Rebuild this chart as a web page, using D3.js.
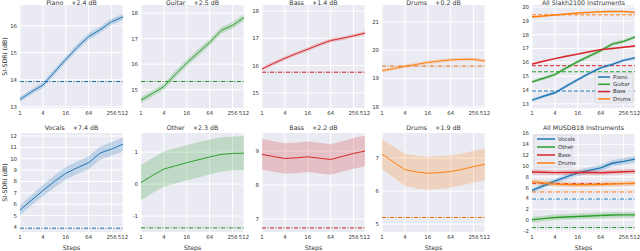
<!DOCTYPE html>
<html>
<head>
<meta charset="utf-8">
<script src="https://cdn.jsdelivr.net/npm/d3@7"></script>
<style>
  body { margin: 0; background: #fff; }
  svg { font-family: "DejaVu Sans", sans-serif; display: block; }
</style>
</head>
<body>
<div id="chart"></div>
<script>
// steps on a log2 axis
const steps = [1, 2, 4, 8, 16, 32, 64, 128, 256, 512];
const stepTicks = [1, 4, 16, 64, 256, 512];

// Slakh2100
const slakhPiano = [13.27, 13.55, 13.8, 14.28, 14.75, 15.2, 15.6, 15.85, 16.15, 16.33];
const slakhPianoSd = [0.1, 0.1, 0.11, 0.12, 0.12, 0.12, 0.12, 0.12, 0.12, 0.12];
const slakhGuitar = [14.59, 14.85, 15.12, 15.6, 16.05, 16.45, 16.85, 17.32, 17.52, 17.83];
const slakhGuitarSd = [0.12, 0.12, 0.12, 0.13, 0.13, 0.13, 0.13, 0.13, 0.13, 0.13];
const slakhBass = [15.88, 16.08, 16.27, 16.44, 16.6, 16.77, 16.92, 17.0, 17.09, 17.19];
const slakhBassSd = [0.07, 0.07, 0.07, 0.07, 0.07, 0.07, 0.07, 0.07, 0.07, 0.07];
const slakhDrums = [19.28, 19.35, 19.43, 19.5, 19.57, 19.62, 19.66, 19.68, 19.68, 19.62];
const slakhDrumsSd = [0.06, 0.06, 0.06, 0.06, 0.06, 0.06, 0.06, 0.06, 0.06, 0.06];
const slakhBaseline = [13.93, 15.32, 15.76, 19.44];

// MUSDB18
const musVocals = [5.49, 6.35, 7.2, 8.0, 8.72, 9.2, 9.65, 10.5, 10.85, 11.27];
const musVocalsSd = [0.45, 0.47, 0.5, 0.52, 0.55, 0.55, 0.57, 0.58, 0.6, 0.6];
const musOther = [0.05, 0.27, 0.47, 0.57, 0.67, 0.76, 0.85, 0.93, 0.96, 0.97];
const musOtherSd = [0.55, 0.55, 0.55, 0.55, 0.55, 0.55, 0.55, 0.54, 0.53, 0.53];
const musBass = [8.9, 8.84, 8.78, 8.8, 8.83, 8.79, 8.75, 8.84, 8.93, 9.0];
const musBassSd = [0.45, 0.45, 0.45, 0.45, 0.45, 0.45, 0.45, 0.45, 0.45, 0.45];
const musDrums = [7.12, 6.88, 6.65, 6.58, 6.54, 6.56, 6.59, 6.66, 6.74, 6.81];
const musDrumsSd = [0.45, 0.47, 0.48, 0.5, 0.5, 0.5, 0.49, 0.48, 0.48, 0.48];
const musBaseline = [3.9, -1.37, 6.74, 5.2];

const slakhNames = ["Piano", "Guitar", "Bass", "Drums"];
const musNames = ["Vocals", "Other", "Bass", "Drums"];
const slakhGains = ["+2.4 dB", "+2.5 dB", "+1.4 dB", "+0.2 dB"];
const musGains = ["+7.4 dB", "+2.3 dB", "+2.2 dB", "+1.9 dB"];
const colors = ["#1f77b4", "#2ca02c", "#d62728", "#ff7f0e"];

const slakhSeries = [
  [slakhPiano, slakhPianoSd], [slakhGuitar, slakhGuitarSd],
  [slakhBass, slakhBassSd], [slakhDrums, slakhDrumsSd]
];
const musSeries = [
  [musVocals, musVocalsSd], [musOther, musOtherSd],
  [musBass, musBassSd], [musDrums, musDrumsSd]
];

// axis ranges per panel
const slakhDomains = [[12.95, 16.77], [14.28, 18.32], [14.45, 18.22], [17.96, 21.6]];
const slakhTicks = [[13, 14, 15, 16], [15, 16, 17, 18], [15, 16, 17, 18], [18, 19, 20, 21]];
const musDomains = [[3.56, 12.26], [-1.5, 1.6], [6.62, 9.53], [4.76, 7.76]];
const musTicks = [[4, 5, 6, 7, 8, 9, 10, 11, 12], [-1, 0, 1], [7, 8, 9], [5, 6, 7]];

const W = 640, H = 251;
const colX = [20, 141, 262, 382, 532];
const pw = 103;
const rows = [{ top: 5, bottom: 108, title: 4.6 }, { top: 133, bottom: 232, title: 129.6 }];

const svg = d3.select("#chart").append("svg")
  .attr("width", W).attr("height", H);

function mkSeries(vals, sd) {
  return steps.map((s, i) => ({ s: s, v: vals[i], lo: vals[i] - sd[i], hi: vals[i] + sd[i] }));
}

function panel(opts) {
  const row = rows[opts.row];
  const x = d3.scaleLog().base(2).domain([1, 512]).range([colX[opts.col], colX[opts.col] + pw]);
  const y = d3.scaleLinear().domain(opts.domain).range([row.bottom, row.top]);
  const g = svg.append("g");

  g.append("rect")
    .attr("x", x.range()[0]).attr("y", row.top)
    .attr("width", pw).attr("height", row.bottom - row.top)
    .attr("fill", "#eaeaf2");

  // grid
  g.selectAll(".gx").data(stepTicks).enter().append("line")
    .attr("x1", d => x(d)).attr("x2", d => x(d))
    .attr("y1", row.top).attr("y2", row.bottom)
    .attr("stroke", "#fff").attr("stroke-width", 1);
  g.selectAll(".gy").data(opts.ticks).enter().append("line")
    .attr("x1", x.range()[0]).attr("x2", x.range()[1])
    .attr("y1", d => y(d)).attr("y2", d => y(d))
    .attr("stroke", "#fff").attr("stroke-width", 1);

  // tick labels
  g.selectAll(".tx").data(stepTicks).enter().append("text")
    .attr("x", d => x(d)).attr("y", row.bottom + 3)
    .attr("dy", "0.71em").attr("text-anchor", "middle")
    .attr("font-size", 5.4).attr("fill", "#333")
    .text(d => d);
  g.selectAll(".ty").data(opts.ticks).enter().append("text")
    .attr("x", x.range()[0] - 3).attr("y", d => y(d))
    .attr("dy", "0.35em").attr("text-anchor", "end")
    .attr("font-size", 5.4).attr("fill", "#333")
    .text(d => d);

  // title
  g.append("text")
    .attr("x", x.range()[0] + pw / 2).attr("y", row.title)
    .attr("text-anchor", "middle").attr("font-size", 6.3).attr("fill", "#333")
    .style("white-space", "pre")
    .text(opts.title);

  if (opts.row === 1) {
    g.append("text")
      .attr("x", x.range()[0] + pw / 2).attr("y", 249.5)
      .attr("text-anchor", "middle").attr("font-size", 6.3).attr("fill", "#333")
      .text("Steps");
  }
  if (opts.col === 0) {
    const cy = (row.top + row.bottom) / 2;
    g.append("text")
      .attr("transform", "translate(7," + cy + ") rotate(-90)")
      .attr("text-anchor", "middle").attr("font-size", 6.3).attr("fill", "#333")
      .text("SI-SDRi (dB)");
  }

  const clip = "clip" + opts.row + "_" + opts.col;
  g.append("clipPath").attr("id", clip).append("rect")
    .attr("x", x.range()[0]).attr("y", row.top)
    .attr("width", pw).attr("height", row.bottom - row.top);
  const inner = g.append("g").attr("clip-path", "url(#" + clip + ")");

  const area = d3.area().x(d => x(d.s)).y0(d => y(d.lo)).y1(d => y(d.hi));
  const line = d3.line().x(d => x(d.s)).y(d => y(d.v));

  opts.series.forEach(function (s) {
    inner.append("line")
      .attr("x1", x.range()[0]).attr("x2", x.range()[1])
      .attr("y1", y(s.base)).attr("y2", y(s.base))
      .attr("stroke", s.baseColor).attr("stroke-width", 1)
      .attr("stroke-dasharray", s.dash);
  });
  opts.series.forEach(function (s) {
    const data = mkSeries(s.vals, s.sd);
    inner.append("path").datum(data)
      .attr("d", area).attr("fill", s.color).attr("fill-opacity", 0.22);
    inner.append("path").datum(data)
      .attr("d", line).attr("fill", "none")
      .attr("stroke", s.color).attr("stroke-width", s.lw);
  });

  if (opts.legend) {
    const L = opts.legend;
    const lg = g.append("g");
    lg.append("rect")
      .attr("x", L.x).attr("y", L.y).attr("width", L.w).attr("height", L.h)
      .attr("rx", 1.5).attr("fill", "#eaeaf2").attr("fill-opacity", 0.8)
      .attr("stroke", "#cccccc").attr("stroke-width", 0.6);
    opts.series.forEach(function (s, i) {
      const ly = L.y + 4 + i * L.step;
      lg.append("line")
        .attr("x1", L.x + 3).attr("x2", L.x + 3 + L.handle)
        .attr("y1", ly).attr("y2", ly)
        .attr("stroke", s.color).attr("stroke-width", 1.5);
      lg.append("text")
        .attr("x", L.x + 6 + L.handle).attr("y", ly).attr("dy", "0.35em")
        .attr("font-size", 5.4).attr("fill", "#333")
        .text(s.name);
    });
  }
}

// single-source panels
slakhNames.forEach(function (name, i) {
  panel({
    row: 0, col: i, domain: slakhDomains[i], ticks: slakhTicks[i],
    title: name + "    " + slakhGains[i],
    series: [{
      vals: slakhSeries[i][0], sd: slakhSeries[i][1], base: slakhBaseline[i],
      color: colors[i], baseColor: d3.color(colors[i]).darker(0.35), lw: 1,
      dash: "4,1.5,1,1.5", name: name
    }]
  });
});
musNames.forEach(function (name, i) {
  panel({
    row: 1, col: i, domain: musDomains[i], ticks: musTicks[i],
    title: name + "    " + musGains[i],
    series: [{
      vals: musSeries[i][0], sd: musSeries[i][1], base: musBaseline[i],
      color: colors[i], baseColor: d3.color(colors[i]).darker(0.35), lw: 1,
      dash: "4,1.5,1,1.5", name: name
    }]
  });
});

// combined panels
panel({
  row: 0, col: 4, domain: [12.7, 20.15], ticks: [13, 14, 15, 16, 17, 18, 19, 20],
  title: "All Slakh2100 Instruments",
  series: slakhNames.map((name, i) => ({
    vals: slakhSeries[i][0], sd: slakhSeries[i][1], base: slakhBaseline[i],
    color: colors[i], baseColor: colors[i], lw: 1.4, dash: "4,2", name: name
  })),
  legend: { x: 595, y: 73, w: 38, h: 30, step: 7.3, handle: 12 }
});
panel({
  row: 1, col: 4, domain: [-2.2, 16.1], ticks: [-2, 0, 2, 4, 6, 8, 10, 12, 14, 16],
  title: "All MUSDB18 Instruments",
  series: musNames.map((name, i) => ({
    vals: musSeries[i][0], sd: musSeries[i][1], base: musBaseline[i],
    color: colors[i], baseColor: colors[i], lw: 1.4, dash: "4,1.5,1,1.5", name: name
  })),
  legend: { x: 534, y: 135, w: 38, h: 32, step: 8, handle: 18 }
});
</script>
</body>
</html>
